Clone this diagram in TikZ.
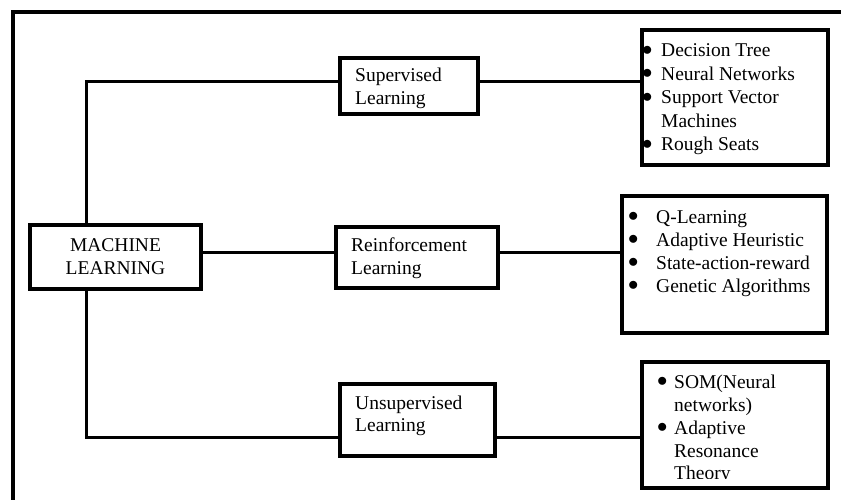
\documentclass[tikz,border=0pt]{standalone}
\usepackage{fontspec}
\setmainfont{Liberation Serif}
\newcommand{\mybul}{\raisebox{1.5pt}{$\bullet$}}
\begin{document}
\begin{tikzpicture}[x=1pt,y=-1pt,
  box/.style={draw, line width=3.6pt, inner sep=0pt, minimum width=#1},
  conn/.style={line width=3pt},
  lbl/.style={anchor=base west, inner sep=0pt, font=\fontsize{19.5}{23}\selectfont},
  clbl/.style={anchor=base, inner sep=0pt, font=\fontsize{19.5}{23}\selectfont},
  frame/.style={line width=3.6pt}]
\useasboundingbox (0,0) rectangle (841,500);
% outer frame (open at right and bottom)
\coordinate (fbl) at (13,505);
\coordinate (ftl) at (13,12);
\coordinate (ftr) at (846,12);
\draw[frame] (fbl) -- (ftl) -- (ftr);
% boxes
\node[box=171pt, minimum height=64pt] (ml) at (115.5,257) {};
\node[box=138pt, minimum height=56pt] (sup) at (409,86) {};
\node[box=186pt, minimum height=135pt] (r1) at (735,97.5) {};
\node[box=162pt, minimum height=61pt] (rl) at (417,257.5) {};
\node[box=205pt, minimum height=137pt] (r2) at (724.5,264.5) {};
\node[box=155pt, minimum height=72pt] (un) at (417.5,420) {};
\node[box=186pt, minimum height=126pt] (r3) at (735,425) {};
% connectors
\coordinate (c1) at (86,82);
\coordinate (c2) at (86,252);
\coordinate (c3) at (86,437.5);
\draw[conn] (c1 |- ml.north) -- (c1) -- (c1 -| sup.west);
\draw[conn] (c1 -| sup.east) -- (c1 -| r1.west);
\draw[conn] (c2 -| ml.east) -- (c2 -| rl.west);
\draw[conn] (c2 -| rl.east) -- (c2 -| r2.west);
\draw[conn] (c3 |- ml.south) -- (c3) -- (c3 -| un.west);
\draw[conn] (c3 -| un.east) -- (c3 -| r3.west);
% texts
\node[clbl] (mlt1) at (115.5,251) {MACHINE};
\node[clbl] (mlt2) at (115.5,274) {LEARNING};
\node[lbl] (supt1) at (355,82) {Supervised};
\node[lbl] (supt2) at (355,104.5) {Learning};
\node[lbl] (rlt1) at (351,251) {Reinforcement};
\node[lbl] (rlt2) at (351,274) {Learning};
\node[lbl] (unt1) at (355,409) {Unsupervised};
\node[lbl] (unt2) at (355,431.5) {Learning};
% list 1
\foreach \y/\t [count=\i] in {57/Decision Tree, 80.5/Neural Networks, 104/Support Vector, 151/Rough Seats}{
  \node[lbl] (b1\i) at (642,\y) {\mybul};
  \node[lbl] (t1\i) at (661,\y) {\t};
}
\node[lbl] (t1x) at (661,127.5) {Machines};
% list 2
\foreach \y/\t [count=\i] in {223/Q-Learning, 246/Adaptive Heuristic, 269/State-action-reward, 292/Genetic Algorithms}{
  \node[lbl] (b2\i) at (628,\y) {\mybul};
  \node[lbl] (t2\i) at (656,\y) {\t};
}
% list 3 (clipped at bottom)
\begin{scope}
\clip (640,360) rectangle (830,478.5);
\node[lbl] (b31) at (657,388) {\mybul};
\node[lbl] (t31) at (674,388) {SOM(Neural};
\node[lbl] (t32) at (674,411) {networks)};
\node[lbl] (b32) at (657,434) {\mybul};
\node[lbl] (t33) at (674,434) {Adaptive};
\node[lbl] (t34) at (674,457) {Resonance};
\node[lbl] (t35) at (674,479) {Theory};
\end{scope}
\end{tikzpicture}
\end{document}
